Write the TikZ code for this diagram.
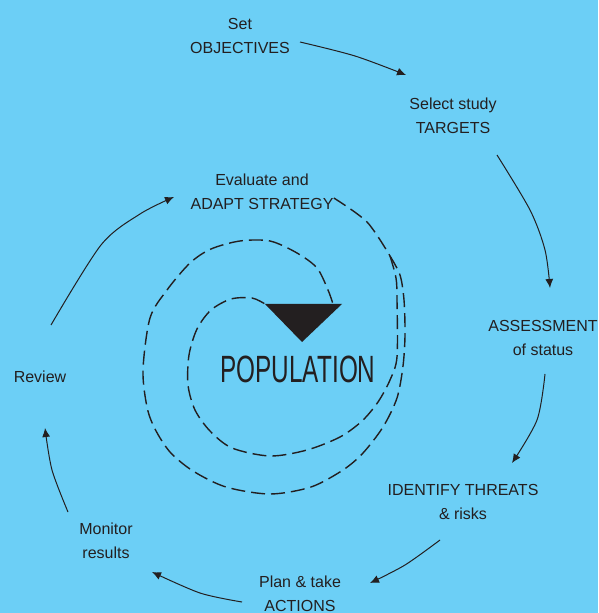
\documentclass[tikz,border=0pt]{standalone}
\usepackage{graphicx}
\usepackage{fontspec}
\setmainfont{Liberation Sans}
\usetikzlibrary{arrows.meta, calc}
\definecolor{sky}{RGB}{108,207,246}
\definecolor{ink}{RGB}{35,31,32}
\tikzset{
  lbl/.style={align=center, font=\fontsize{8}{12}\selectfont, text=ink, inner sep=1pt},
  cyc/.style={draw=ink, line width=0.5pt, -{Latex[length=4.5pt,width=4pt]}},
  coil/.style={draw=ink, line width=0.7pt, dash pattern=on 7pt off 3pt},
}

\begin{document}
\begin{tikzpicture}[x=0.5pt, y=-0.5pt]
    \fill[sky] (0,0) rectangle (598,613);
    \useasboundingbox (0,0) rectangle (598,613);
    \node[lbl] (goal) at (240,36) {Set\\OBJECTIVES};
    \node[lbl] (target) at (453,116) {Select study\\TARGETS};
    \node[lbl] (assess) at (543,338) {ASSESSMENT\\of status};
    \node[lbl] (threat) at (463,502) {IDENTIFY THREATS\\\& risks};
    \node[lbl] (act) at (300,594) {Plan \& take\\ACTIONS};
    \node[lbl] (monitor) at (106,541) {Monitor\\results};
    \node[lbl] (review) at (40,377) {Review};
    \node[lbl] (adapt) at (262,192) {Evaluate and\\ADAPT STRATEGY};
    \node[anchor=base, text=ink, font=\fontsize{19}{19}\selectfont] (pop) at (298,382) {\scalebox{0.64}[1]{POPULATION}};
    \coordinate (tl) at (265,304);
    \coordinate (tr) at (342,304);
    \coordinate (tip) at (302,342);
    \coordinate (split) at (390,256);
    \fill[ink] (tl) -- (tr) -- (tip) -- cycle;
    \draw[cyc] plot[smooth] coordinates {($(goal)+(60,6)$) (355,56) ($(target)+(-47,-41)$)};
    \draw[cyc] plot[smooth] coordinates {($(target)+(44,39)$) (530,210) (545,250) ($(assess)+(7,-50)$)};
    \draw[cyc] plot[smooth] coordinates {($(assess)+(2,36)$) (537,420) ($(threat)+(49,-39)$)};
    \draw[cyc] plot[smooth] coordinates {($(threat)+(-23,38)$) (405,565) ($(act)+(70,-11)$)};
    \draw[cyc] plot[smooth] coordinates {($(act)+(-58,8)$) (200,593) ($(monitor)+(46,31)$)};
    \draw[cyc] plot[smooth] coordinates {($(monitor)+(-38,-29)$) (52,470) ($(review)+(5,51)$)};
    \draw[cyc] plot[smooth] coordinates {($(review)+(11,-52)$) (101,245) (140,214) ($(adapt)+(-88,5)$)};
    \draw[coil] plot[smooth] coordinates {($(adapt.east)+(-2,6)$) (367,222) (split)};
    \draw[coil] plot[smooth] coordinates {(split) (400,275) (404,300) (405,335) (403,366) (397,398) (383,427) (363,453) (343,470) (311,487) (270,494) (226,487) (193,471) (170,452) (155,429) (147,407) (143,370) (150,318) (167,290) (190,263) (211,249) (240,241) (270,241) (297,253) (317,268) (328,290) ($(tr)+(-9,0)$)};
    \draw[coil] plot[smooth] coordinates {(split) (396,278) (397,300) (397,357) (390,380) (378,402) (362,421) (340,437) (307,450) (270,456) (232,448) (210,431) (195,410) (188,385) (189,355) (197,329) (211,310) (231,299) (252,298) (tl)};
\end{tikzpicture}
\end{document}
